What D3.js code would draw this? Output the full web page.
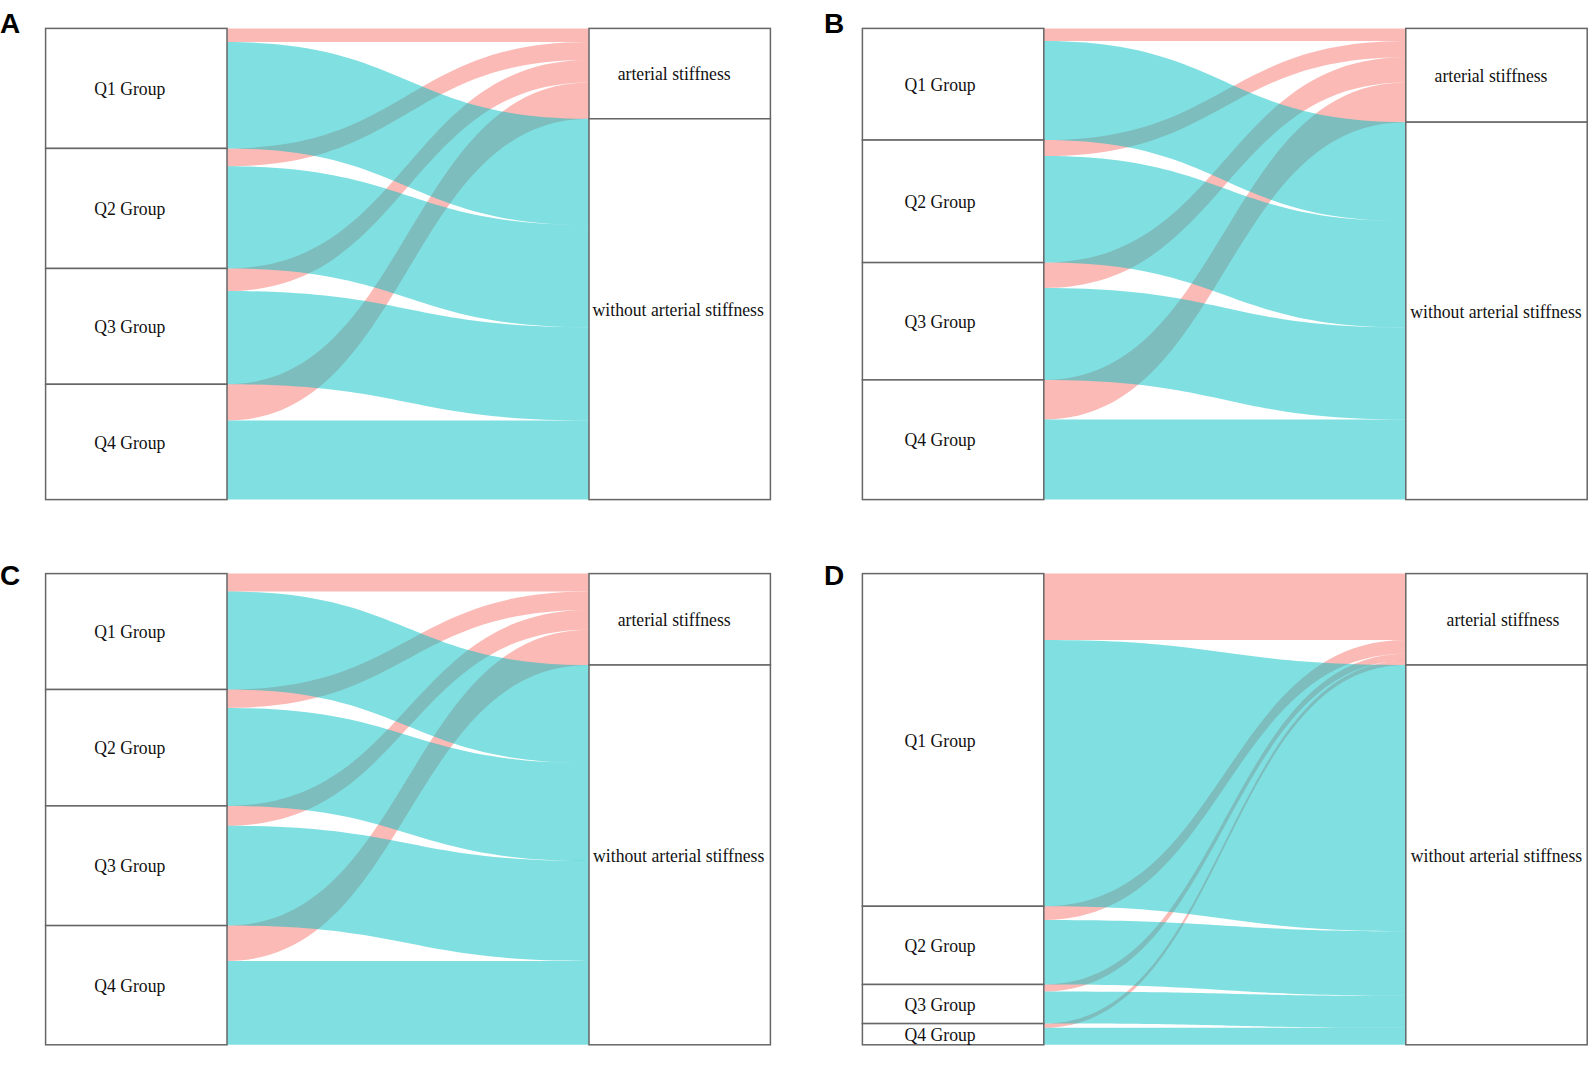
<!DOCTYPE html>
<html><head><meta charset="utf-8">
<script src="https://cdn.jsdelivr.net/npm/d3@7"></script>
<style>body{margin:0;background:#fff} svg{display:block}</style>
</head><body>
<svg id="c" width="1589" height="1088"></svg>
<script>
// ---- data (counts per 1000 participants) ----
const panelLetters = ["A", "B", "C", "D"];
const groups = ["Q1 Group", "Q2 Group", "Q3 Group", "Q4 Group"];
const outcomes = ["arterial stiffness", "without arterial stiffness"];
const stiffA = [29, 38, 48, 77],  withoutA = [226, 217, 198, 168];
const stiffB = [27, 34, 54, 84],  withoutB = [210, 226, 195, 170];
const stiffC = [38, 39, 42, 75],  withoutC = [208, 208, 212, 178];
const stiffD = [141, 29, 15, 9],  withoutD = [565, 137, 68, 36];
const stiffAll = [stiffA, stiffB, stiffC, stiffD];
const withoutAll = [withoutA, withoutB, withoutC, withoutD];

// ---- layout ----
const layout = [
  {x: 45.6,  y: 28.4,  lx: 0,   ly: 33,  leftDx: -6.5, topDx: -5.5, botDx: -1.5},
  {x: 862.4, y: 28.4,  lx: 824, ly: 33,  leftDx: -13,  topDx: -5.5, botDx: -0.5},
  {x: 45.6,  y: 573.6, lx: 0,   ly: 585, leftDx: -6.5, topDx: -5.5, botDx: -1},
  {x: 862.4, y: 573.6, lx: 824, ly: 585, leftDx: -13,  topDx: 6.5,  botDx: 0}
];
const boxW = 181.4, flowW = 362, H = 471.2;
const pink = "#F8766D", teal = "#00BFC4";

const svg = d3.select("#c");

function ribbon(xs, xe, a0, a1, b0, b1) {
  const m = (xs + xe) / 2;
  return `M${xs},${a0}C${m},${a0} ${m},${b0} ${xe},${b0}L${xe},${b1}C${m},${b1} ${m},${a1} ${xs},${a1}Z`;
}

function label(g, text, cx, cy) {
  g.append("g").attr("transform", `translate(${cx},${cy}) scale(0.93,1)`)
    .append("text")
    .attr("text-anchor", "middle").attr("dy", "0.35em")
    .attr("font-family", "'Liberation Serif','Times New Roman',serif")
    .attr("font-size", 19).attr("fill", "#111")
    .text(text);
}

panelLetters.forEach((letter, p) => {
  const L = layout[p];
  const stiff = stiffAll[p], without = withoutAll[p];
  const totals = stiff.map((s, i) => s + without[i]);
  const total = d3.sum(totals);
  const y = d3.scaleLinear().domain([0, total]).range([L.y, L.y + H]);
  const x = d3.scaleLinear().domain([0, 1]).range([L.x + boxW, L.x + boxW + flowW]);
  const g = svg.append("g");

  // left stacks
  const leftStart = d3.cumsum([0, ...totals]);
  const sumStiff = d3.sum(stiff);
  const rightStiffStart = d3.cumsum([0, ...stiff]);
  const rightWithStart = d3.cumsum([sumStiff, ...without]);

  const flows = [];
  groups.forEach((grp, i) => {
    flows.push({color: pink, l0: leftStart[i], l1: leftStart[i] + stiff[i],
                r0: rightStiffStart[i], r1: rightStiffStart[i] + stiff[i]});
  });
  groups.forEach((grp, i) => {
    flows.push({color: teal, l0: leftStart[i] + stiff[i], l1: leftStart[i] + totals[i],
                r0: rightWithStart[i], r1: rightWithStart[i] + without[i]});
  });

  g.append("g").selectAll("path").data(flows).join("path")
    .attr("d", d => ribbon(x(0), x(1), y(d.l0), y(d.l1), y(d.r0), y(d.r1)))
    .attr("fill", d => d.color).attr("fill-opacity", 0.5);

  // strata boxes
  const boxes = g.append("g");
  groups.forEach((grp, i) => {
    boxes.append("rect").attr("x", x(0) - boxW).attr("y", y(leftStart[i]))
      .attr("width", boxW).attr("height", y(leftStart[i] + totals[i]) - y(leftStart[i]))
      .attr("fill", "#fff").attr("stroke", "#666").attr("stroke-width", 1.5);
  });
  const rightSegs = [[0, sumStiff], [sumStiff, total]];
  rightSegs.forEach(([a, b]) => {
    boxes.append("rect").attr("x", x(1)).attr("y", y(a))
      .attr("width", boxW).attr("height", y(b) - y(a))
      .attr("fill", "#fff").attr("stroke", "#666").attr("stroke-width", 1.5);
  });

  // labels
  groups.forEach((grp, i) => {
    label(g, grp, x(0) - boxW / 2 + L.leftDx, (y(leftStart[i]) + y(leftStart[i] + totals[i])) / 2);
  });
  label(g, outcomes[0], x(1) + boxW / 2 + L.topDx, (y(0) + y(sumStiff)) / 2);
  label(g, outcomes[1], x(1) + boxW / 2 + L.botDx, (y(sumStiff) + y(total)) / 2);

  svg.append("text").attr("x", L.lx).attr("y", L.ly)
    .attr("font-family", "'Liberation Sans',Arial,sans-serif").attr("font-weight", "bold")
    .attr("font-size", 28).attr("fill", "#000").text(letter);
});
</script>
</body></html>
